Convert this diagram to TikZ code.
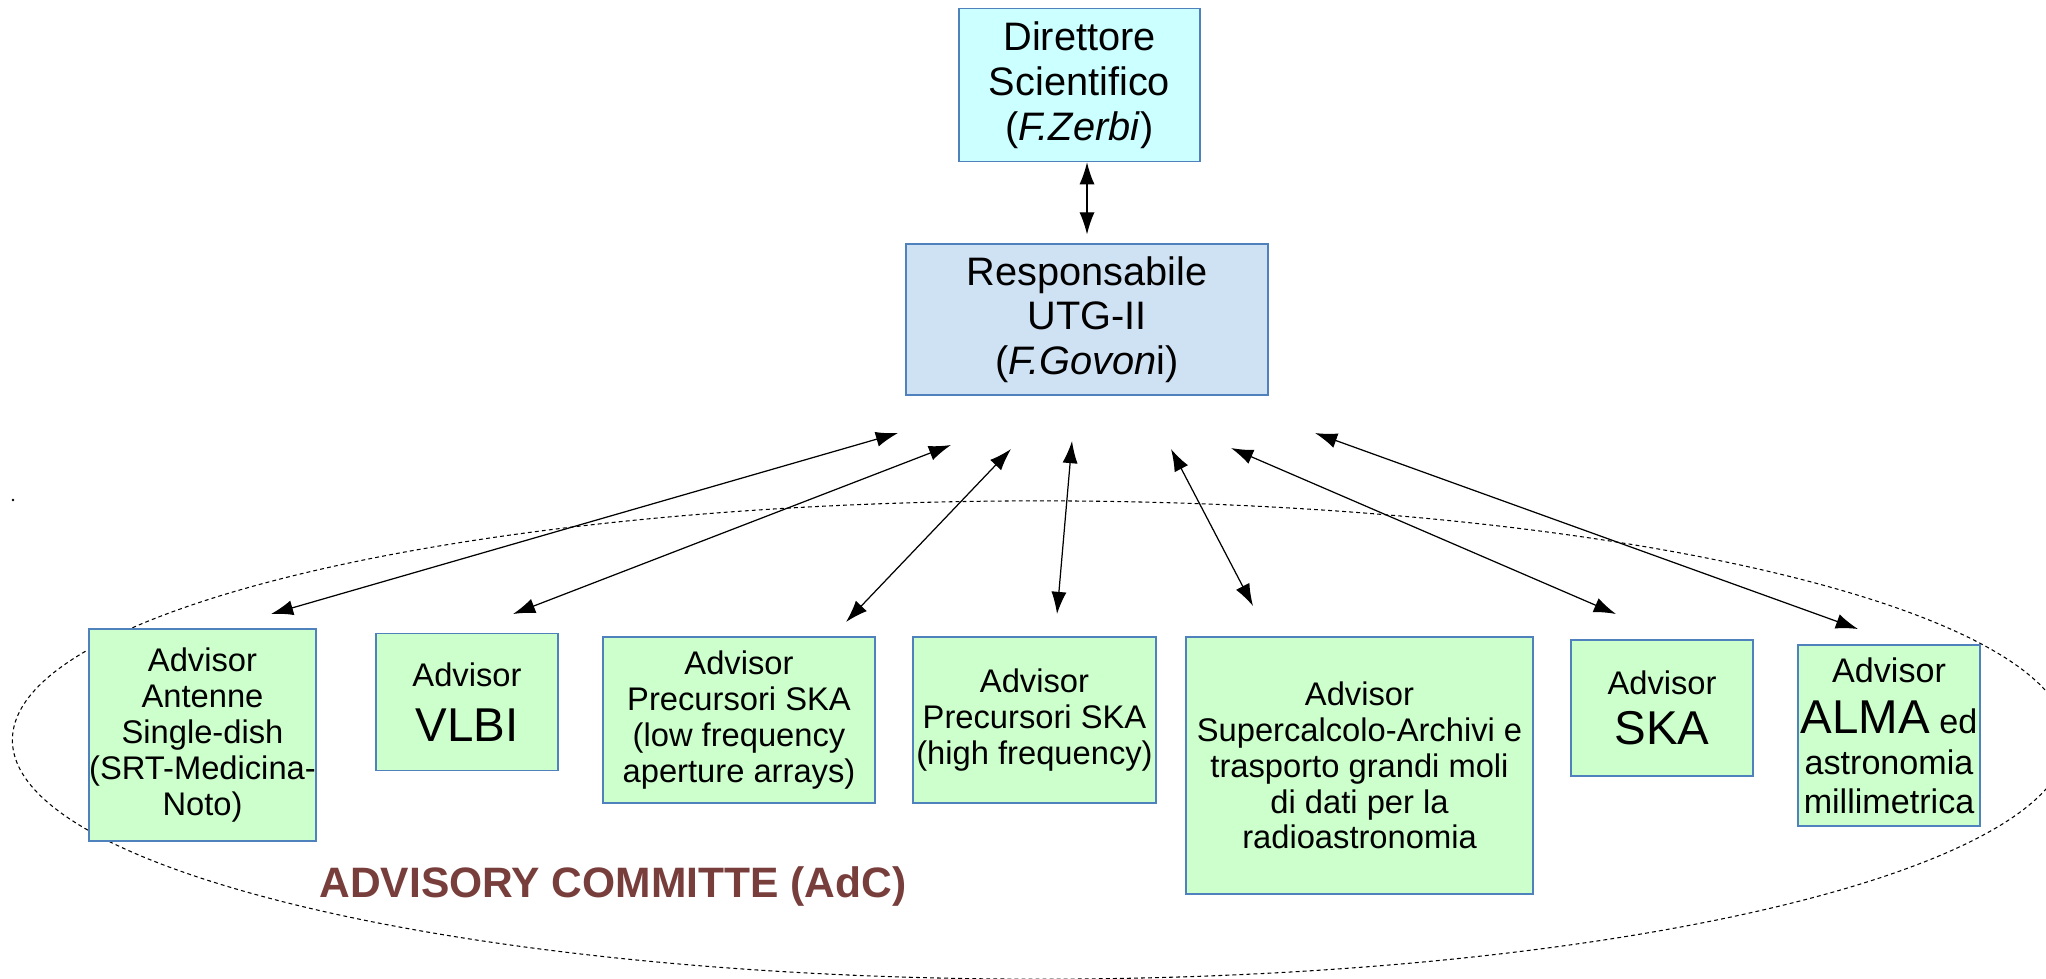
\documentclass[tikz,border=0pt]{standalone}
\usepackage{fontspec}
\setmainfont{Liberation Sans}
\usepackage{xcolor}
\usepackage{tikz}
\usetikzlibrary{arrows.meta}

\definecolor{boxline}{RGB}{79,129,189}
\definecolor{dirfill}{RGB}{204,255,255}
\definecolor{respfill}{RGB}{207,226,243}
\definecolor{advfill}{RGB}{204,255,204}
\definecolor{adctext}{RGB}{120,62,60}

\tikzset{
  orgbox/.style={draw=boxline, line width=0.4pt, align=center, inner sep=0pt},
  advbox/.style={orgbox, fill=advfill, font=\fontsize{9.3}{10.2}\selectfont},
  link/.style={{Latex[length=6.3pt,width=4.3pt]}-{Latex[length=6.3pt,width=4.3pt]}, line width=0.35pt}
}

\begin{document}
\begin{tikzpicture}[x=0.01cm, y=-0.01cm]
  \clip (0,0) rectangle (2046,978);

  % Committee ellipse
  \draw[dash pattern=on 1.1pt off 0.9pt, line width=0.3pt] (1040,740) ellipse [x radius=10.27cm, y radius=2.39cm];
  \fill (13,500) circle [radius=0.4pt];

  % Top boxes
  \node[orgbox, fill=dirfill, minimum width=2.41cm, minimum height=1.53cm, font=\fontsize{11.3}{12.8}\selectfont] (dir) at (1079.5,85) {Direttore\\Scientifico\\(\textit{F.Zerbi})};
  \node[orgbox, fill=respfill, minimum width=3.62cm, minimum height=1.51cm, font=\fontsize{11.3}{12.6}\selectfont] (resp) at (1087,319.5) {Responsabile\\UTG-II\\(\textit{F.Govon}i)};
  \draw[link, shorten >=2.5pt] (dir.south -| resp.north) -- (resp.north);

  % Advisors
  \node[advbox, minimum width=2.27cm, minimum height=2.12cm] (ant) at (202.5,735) {Advisor\\Antenne\\Single-dish\\(SRT-Medicina-\\Noto)};
  \node[advbox, minimum width=1.82cm, minimum height=1.37cm] (vlbi) at (467,702) {Advisor\\[5.4pt]{\fontsize{13.5}{15}\selectfont VLBI}};
  \node[advbox, minimum width=2.72cm, minimum height=1.66cm] (low) at (739,720) {Advisor\\Precursori SKA\\(low frequency\\aperture arrays)};
  \node[advbox, minimum width=2.43cm, minimum height=1.66cm] (high) at (1034.5,720) {Advisor\\Precursori SKA\\(high frequency)};
  \node[advbox, minimum width=3.47cm, minimum height=2.57cm] (data) at (1359.5,765.5) {Advisor\\Supercalcolo-Archivi e\\trasporto grandi moli\\di dati per la\\radioastronomia};
  \node[advbox, minimum width=1.82cm, minimum height=1.36cm] (ska) at (1662,708) {Advisor\\[4pt]{\fontsize{13.5}{15}\selectfont SKA}};
  \node[advbox, minimum width=1.82cm, minimum height=1.81cm, font=\fontsize{9.7}{11.1}\selectfont] (alma) at (1889,735.5) {Advisor\\[3.4pt]{\fontsize{13.5}{15}\selectfont ALMA} ed\\[0.6pt]astronomia\\millimetrica};

  % Links
  \coordinate (u1) at (898,433);  \coordinate (d1) at (271,614);
  \coordinate (u2) at (951,445);  \coordinate (d2) at (513,614);
  \coordinate (u3) at (1011,449); \coordinate (d3) at (846,622);
  \coordinate (u4) at (1072,441); \coordinate (d4) at (1057,614);
  \coordinate (u5) at (1171,449); \coordinate (d5) at (1253,606);
  \coordinate (u6) at (1231,448); \coordinate (d6) at (1616,614);
  \coordinate (u7) at (1315,433); \coordinate (d7) at (1858,629);
  \draw[link] (u1) -- (d1);
  \draw[link] (u2) -- (d2);
  \draw[link] (u3) -- (d3);
  \draw[link] (u4) -- (d4);
  \draw[link] (u5) -- (d5);
  \draw[link] (u6) -- (d6);
  \draw[link] (u7) -- (d7);

  % Label
  \node[font=\fontsize{12.1}{14}\selectfont\bfseries, text=adctext] (adc) at (613,886) {ADVISORY COMMITTE (AdC)};
\end{tikzpicture}
\end{document}
